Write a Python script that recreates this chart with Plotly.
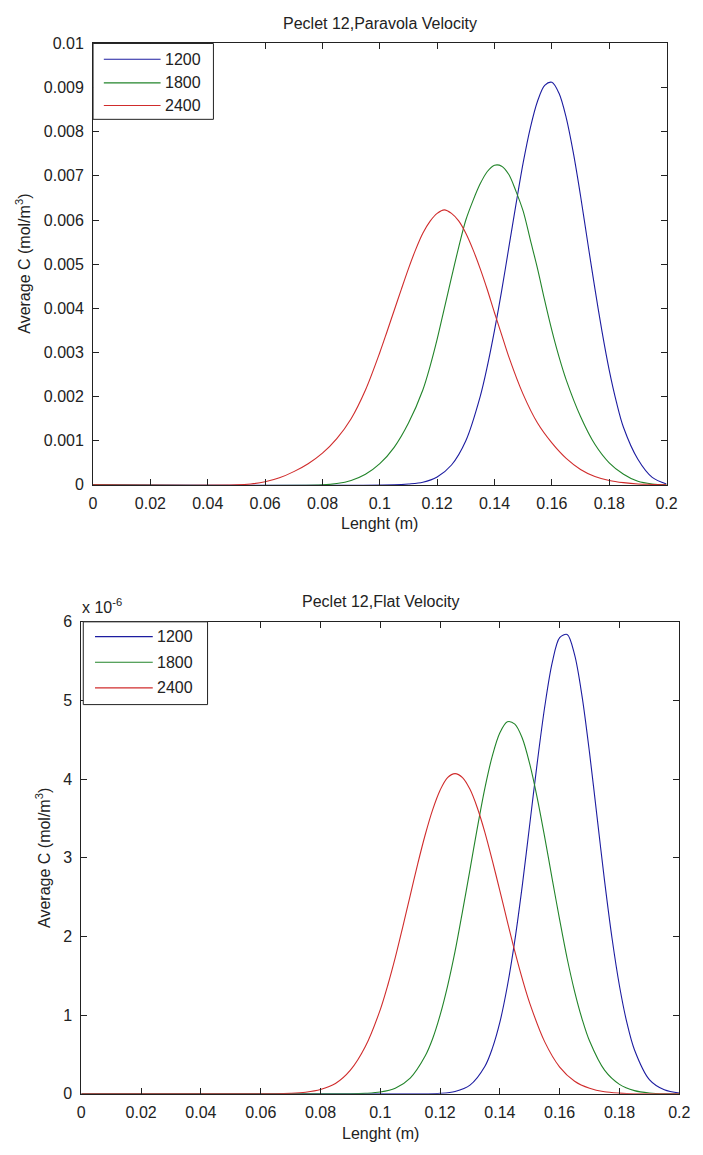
import plotly.graph_objects as go

W, H = 703, 1155

# ---------------- data ----------------
series_names = ["1200", "1800", "2400"]
series_colors = ["#1c1ca0", "#22842a", "#d02c2c"]

# Top plot: Peclet 12, parabola velocity  (x in m, y in mol/m^3 * 1e-3)
para_1200_x = [0, 0.105, 0.11, 0.115, 0.12, 0.125, 0.13, 0.135, 0.1375, 0.14, 0.1425, 0.145,
               0.1475, 0.15, 0.1525, 0.155, 0.1575, 0.16, 0.1625, 0.165, 0.1675, 0.17, 0.1725,
               0.175, 0.1775, 0.18, 0.1825, 0.185, 0.19, 0.195, 0.2]
para_1200_y = [0, 0, 0.02, 0.06, 0.18, 0.45, 1.0, 2.0, 2.69, 3.5, 4.40, 5.38,
               6.36, 7.3, 8.09, 8.69, 9.05, 9.12, 8.87, 8.32, 7.52, 6.55, 5.49,
               4.45, 3.47, 2.6, 1.88, 1.3, 0.58, 0.17, 0.02]

para_1800_x = [0, 0.08, 0.085, 0.09, 0.095, 0.1, 0.105, 0.11, 0.115, 0.1175, 0.12, 0.1225,
               0.125, 0.1275, 0.13, 0.1325, 0.135, 0.1375, 0.14, 0.1425, 0.145, 0.1475, 0.15,
               0.1525, 0.155, 0.1575, 0.16, 0.1625, 0.165, 0.17, 0.175, 0.18, 0.185, 0.19,
               0.195, 0.2]
para_1800_y = [0, 0, 0.03, 0.1, 0.24, 0.48, 0.85, 1.4, 2.15, 2.68, 3.3, 4.0,
               4.7, 5.38, 6.0, 6.44, 6.82, 7.10, 7.24, 7.22, 7.03, 6.65, 6.2,
               5.55, 4.9, 4.18, 3.5, 2.9, 2.38, 1.55, 0.92, 0.5, 0.24, 0.08,
               0.02, 0]

para_2400_x = [0, 0.05, 0.055, 0.06, 0.065, 0.07, 0.075, 0.08, 0.085, 0.09, 0.095, 0.1,
               0.1025, 0.105, 0.1075, 0.11, 0.1125, 0.115, 0.1175, 0.12, 0.1225, 0.125,
               0.1275, 0.13, 0.1325, 0.135, 0.1375, 0.14, 0.1425, 0.145, 0.15, 0.155, 0.16,
               0.165, 0.17, 0.175, 0.18, 0.185, 0.19, 0.195, 0.2]
para_2400_y = [0, 0, 0.02, 0.07, 0.16, 0.3, 0.48, 0.72, 1.05, 1.5, 2.15, 3.0,
               3.47, 3.95, 4.43, 4.9, 5.33, 5.7, 5.97, 6.15, 6.23, 6.15,
               5.98, 5.7, 5.33, 4.9, 4.42, 3.9, 3.4, 2.9, 2.05, 1.4, 0.95,
               0.6, 0.35, 0.19, 0.1, 0.05, 0.02, 0.01, 0]

# Bottom plot: Peclet 12, flat velocity  (x in m, y in mol/m^3 * 1e-6)
flat_1200_x = [0, 0.115, 0.12, 0.125, 0.13, 0.135, 0.1375, 0.14, 0.1425, 0.145, 0.1475, 0.15,
               0.1525, 0.155, 0.1575, 0.16, 0.1625, 0.165, 0.1675, 0.17, 0.1725, 0.175,
               0.1775, 0.18, 0.1825, 0.185, 0.19, 0.195, 0.2]
flat_1200_y = [0, 0, 0.006, 0.03, 0.11, 0.35, 0.58, 0.91, 1.37, 1.95, 2.65, 3.43,
               4.21, 4.92, 5.48, 5.80, 5.84, 5.58, 5.05, 4.33, 3.52, 2.71,
               1.98, 1.37, 0.90, 0.56, 0.18, 0.05, 0.01]

flat_1800_x = [0, 0.09, 0.095, 0.1, 0.105, 0.11, 0.115, 0.1175, 0.12, 0.1225, 0.125, 0.1275,
               0.13, 0.1325, 0.135, 0.1375, 0.14, 0.1425, 0.145, 0.1475, 0.15, 0.1525, 0.155,
               0.1575, 0.16, 0.1625, 0.165, 0.1675, 0.17, 0.175, 0.18, 0.185, 0.19, 0.195,
               0.2]
flat_1800_y = [0, 0, 0.006, 0.022, 0.07, 0.2, 0.48, 0.70, 1.0, 1.37, 1.81, 2.32,
               2.85, 3.39, 3.89, 4.30, 4.59, 4.73, 4.70, 4.52, 4.19, 3.76, 3.26,
               2.73, 2.21, 1.72, 1.30, 0.95, 0.67, 0.30, 0.12, 0.04, 0.01, 0,
               0]

flat_2400_x = [0, 0.065, 0.07, 0.075, 0.08, 0.085, 0.09, 0.095, 0.1, 0.1025, 0.105, 0.1075,
               0.11, 0.1125, 0.115, 0.1175, 0.12, 0.1225, 0.125, 0.1275, 0.13, 0.1325, 0.135,
               0.1375, 0.14, 0.1425, 0.145, 0.1475, 0.15, 0.155, 0.16, 0.165, 0.17, 0.175,
               0.18, 0.185, 0.2]
flat_2400_y = [0, 0, 0.006, 0.02, 0.054, 0.13, 0.30, 0.60, 1.07, 1.38, 1.73, 2.12,
               2.52, 2.92, 3.29, 3.61, 3.86, 4.02, 4.07, 4.02, 3.87, 3.63, 3.32,
               2.96, 2.58, 2.19, 1.81, 1.46, 1.15, 0.66, 0.34, 0.16, 0.07, 0.025,
               0.008, 0, 0]

PARA_SCALE = 1e-3
FLAT_SCALE = 1e-6

x_ticks = [round(i * 0.02, 2) for i in range(11)]
x_ticktext = ["0", "0.02", "0.04", "0.06", "0.08", "0.1", "0.12", "0.14", "0.16", "0.18", "0.2"]
top_yticks = [round(i * 0.001, 3) for i in range(11)]
top_yticktext = ["0", "0.001", "0.002", "0.003", "0.004", "0.005", "0.006", "0.007",
                 "0.008", "0.009", "0.01"]
bot_yticks = [i * 1e-6 for i in range(7)]
bot_yticktext = ["0", "1", "2", "3", "4", "5", "6"]

top_title = "Peclet 12,Paravola Velocity"
bot_title = "Peclet 12,Flat Velocity"
x_title = "Lenght (m)"
y_title = "Average C (mol/m<sup>3</sup>)"

# ---------------- figure ----------------
FONT = "Liberation Sans, Arial, Helvetica, sans-serif"
FS = 16
INK = "#222222"


def px(xp):
    return xp / W


def py(yp):
    return 1 - yp / H


fig = go.Figure()

top_sets = [(para_1200_x, para_1200_y), (para_1800_x, para_1800_y), (para_2400_x, para_2400_y)]
bot_sets = [(flat_1200_x, flat_1200_y), (flat_1800_x, flat_1800_y), (flat_2400_x, flat_2400_y)]

for name, col, (xs, ys) in zip(series_names, series_colors, top_sets):
    fig.add_trace(go.Scatter(
        x=xs, y=[v * PARA_SCALE for v in ys], mode="lines", name=name, showlegend=False,
        line=dict(color=col, width=1.1, shape="spline", smoothing=0.9),
        xaxis="x", yaxis="y"))

for name, col, (xs, ys) in zip(series_names, series_colors, bot_sets):
    fig.add_trace(go.Scatter(
        x=xs, y=[v * FLAT_SCALE for v in ys], mode="lines", name=name, showlegend=False,
        line=dict(color=col, width=1.1, shape="spline", smoothing=0.9),
        xaxis="x2", yaxis="y2"))

axis_common = dict(showline=True, linecolor=INK, linewidth=1, mirror="ticks",
                   ticks="inside", ticklen=6, tickcolor=INK, tickwidth=1,
                   showgrid=False, zeroline=False,
                   tickfont=dict(family=FONT, size=FS, color=INK))

# plot areas in pixels
TOP = dict(l=91, r=677, t=36, b=484)
BOT = dict(l=79, r=690, t=623, b=1102)

fig.update_layout(
    width=W, height=H, margin=dict(l=0, r=0, t=0, b=0),
    paper_bgcolor="white", plot_bgcolor="white",
    font=dict(family=FONT, size=FS, color=INK),
    showlegend=False,
    xaxis=dict(domain=[px(TOP["l"]), px(TOP["r"])], anchor="y", range=[0, 0.2],
               tickvals=x_ticks, ticktext=x_ticktext, ticklabelstandoff=4, **axis_common),
    yaxis=dict(domain=[py(TOP["b"]), py(TOP["t"])], anchor="x", range=[0, 0.01],
               tickvals=top_yticks, ticktext=top_yticktext, ticklabelstandoff=5, **axis_common),
    xaxis2=dict(domain=[px(BOT["l"]), px(BOT["r"])], anchor="y2", range=[0, 0.2],
                tickvals=x_ticks, ticktext=x_ticktext, ticklabelstandoff=4, **axis_common),
    yaxis2=dict(domain=[py(BOT["b"]), py(BOT["t"])], anchor="x2", range=[0, 6e-6],
                tickvals=bot_yticks, ticktext=bot_yticktext, ticklabelstandoff=5, **axis_common),
)

ann = []
shapes = []


def text(xp, yp, s, xanchor="center", yanchor="middle", angle=0):
    ann.append(dict(x=px(xp), y=py(yp), xref="paper", yref="paper", text=s,
                    showarrow=False, xanchor=xanchor, yanchor=yanchor, textangle=angle,
                    font=dict(family=FONT, size=FS, color=INK)))


text((TOP["l"] + TOP["r"]) / 2, 16, top_title)
text((TOP["l"] + TOP["r"]) / 2, 523, x_title)
text(20, (TOP["t"] + TOP["b"]) / 2, y_title, angle=-90)

text((BOT["l"] + BOT["r"]) / 2, 602, bot_title)
text((BOT["l"] + BOT["r"]) / 2, 1142, x_title)
text(40, (BOT["t"] + BOT["b"]) / 2, y_title, angle=-90)
text(78, 607, "x 10<sup>-6</sup>", xanchor="left")


# MATLAB-style legend boxes
def legend_box(x0, x1, y0, y1, rows, lx0, lx1, tx):
    shapes.append(dict(type="rect", xref="paper", yref="paper",
                       x0=px(x0), x1=px(x1), y0=py(y1), y1=py(y0),
                       line=dict(color=INK, width=1), fillcolor="white", layer="above"))
    for name, col, ry in zip(series_names, series_colors, rows):
        shapes.append(dict(type="line", xref="paper", yref="paper",
                           x0=px(lx0), x1=px(lx1), y0=py(ry), y1=py(ry),
                           line=dict(color=col, width=1.1), layer="above"))
        text(tx, ry, name, xanchor="left")


legend_box(91, 214, 36, 113, [52, 76, 99], 102, 160, 162)
legend_box(81, 208, 623, 707, [638, 664, 690], 93, 152, 154)

fig.update_layout(annotations=ann, shapes=shapes)

fig.write_html("out.html")
